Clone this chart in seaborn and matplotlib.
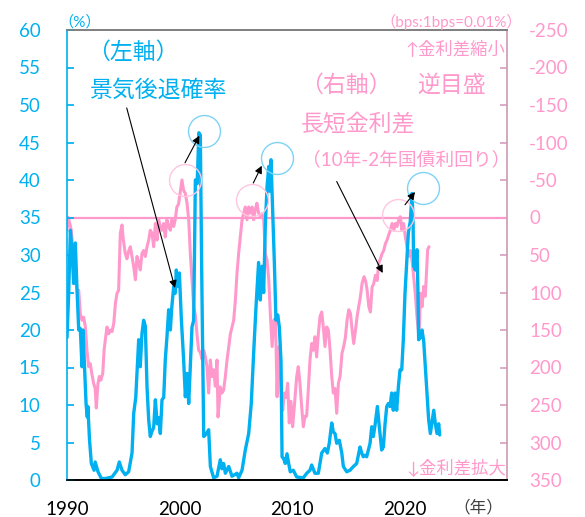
import numpy as np
import matplotlib
matplotlib.use("Agg")
import matplotlib.pyplot as plt
import seaborn as sns

# recession probability (left axis, %)
prob_year = [1990.00, 1990.15, 1990.30, 1990.44, 1990.59, 1990.74, 1990.89, 1991.04, 1991.18, 1991.33,
             1991.42, 1991.57, 1991.69, 1991.80, 1991.85, 1992.00, 1992.16, 1992.40, 1992.50, 1992.75,
             1993.05, 1993.40, 1994.00, 1994.44, 1994.64, 1994.88, 1995.17, 1995.47, 1995.77, 1995.92,
             1996.10, 1996.36, 1996.50, 1996.65, 1996.80, 1996.95, 1997.10, 1997.25, 1997.39, 1997.54,
             1997.69, 1997.84, 1998.00, 1998.13, 1998.28, 1998.43, 1998.58, 1998.72, 1998.87, 1999.02,
             1999.17, 1999.30, 1999.47, 1999.60, 1999.70, 1999.82, 1999.97, 2000.15, 2000.35, 2000.50,
             2000.65, 2000.80, 2000.94, 2001.09, 2001.24, 2001.39, 2001.55, 2001.70, 2001.83, 2001.95,
             2002.05, 2002.13, 2002.27, 2002.42, 2002.57, 2002.72, 2003.01, 2003.31, 2003.60, 2003.75,
             2003.90, 2004.05, 2004.35, 2004.64, 2005.08, 2005.23, 2005.53, 2005.82, 2006.12, 2006.35,
             2006.56, 2006.77, 2007.00, 2007.15, 2007.30, 2007.45, 2007.60, 2007.75, 2007.90, 2007.99,
             2008.10, 2008.25, 2008.40, 2008.54, 2008.70, 2008.84, 2008.99, 2009.08, 2009.23, 2009.37,
             2009.52, 2009.67, 2009.81, 2010.08, 2010.38, 2010.97, 2011.27, 2011.56, 2011.71, 2012.00,
             2012.30, 2012.60, 2012.89, 2013.10, 2013.27, 2013.49, 2013.63, 2013.78, 2013.93, 2014.16,
             2014.38, 2014.52, 2014.82, 2015.11, 2015.41, 2015.70, 2016.00, 2016.15, 2016.29, 2016.44,
             2016.59, 2016.89, 2017.04, 2017.18, 2017.33, 2017.54, 2017.71, 2017.92, 2018.07, 2018.22,
             2018.37, 2018.51, 2018.66, 2018.81, 2018.95, 2019.10, 2019.25, 2019.40, 2019.55, 2019.70,
             2019.84, 2019.99, 2020.14, 2020.29, 2020.46, 2020.61, 2020.70, 2020.76, 2020.91, 2021.06,
             2021.14, 2021.20, 2021.35, 2021.50, 2021.65, 2021.79, 2021.94, 2022.09, 2022.24, 2022.39,
             2022.54, 2022.68, 2022.83, 2022.98, 2023.07]
prob_pct = [19.0, 25.0, 33.3, 30.7, 26.2, 31.6, 25.3, 20.0, 20.2, 15.1,
            20.0, 14.7, 10.2, 8.4, 9.8, 5.3, 2.2, 1.3, 2.4, 1.1,
            0.2, 0.2, 0.4, 1.3, 2.4, 1.3, 0.7, 1.1, 3.6, 8.9,
            11.0, 18.7, 15.1, 19.5, 21.3, 20.5, 12.4, 8.0, 5.8, 6.5,
            7.0, 10.7, 7.5, 8.3, 6.2, 10.7, 11.0, 16.0, 19.1, 22.7,
            20.0, 23.1, 25.8, 24.9, 28.0, 25.8, 27.6, 21.3, 16.0, 11.1,
            14.2, 10.2, 15.1, 20.4, 21.3, 40.0, 39.5, 46.3, 46.0, 28.0,
            15.0, 5.8, 6.0, 6.3, 6.7, 1.8, 0.3, 0.5, 2.7, 1.5,
            2.2, 0.9, 1.8, 0.5, 0.9, 0.3, 1.3, 4.0, 6.2, 10.2,
            16.9, 23.1, 29.0, 24.0, 28.5, 25.0, 34.2, 39.1, 41.8, 38.5,
            42.7, 35.6, 28.9, 21.3, 22.0, 20.4, 15.8, 3.1, 2.8, 2.2,
            3.5, 2.2, 1.1, 1.3, 0.4, 0.3, 0.9, 1.3, 2.0, 0.9,
            0.9, 3.6, 4.2, 3.6, 4.9, 7.6, 6.4, 6.2, 4.9, 5.3,
            3.6, 1.8, 1.1, 1.3, 1.8, 2.2, 4.4, 3.6, 3.1, 3.3,
            3.1, 4.9, 7.1, 5.8, 7.3, 9.8, 7.1, 4.0, 4.4, 7.5,
            9.8, 10.2, 9.8, 11.6, 9.3, 11.6, 9.3, 12.4, 14.7, 14.7,
            18.7, 24.9, 28.9, 33.0, 34.5, 38.2, 35.0, 28.5, 28.0, 30.7,
            25.0, 18.7, 19.0, 20.0, 18.5, 15.1, 11.6, 8.0, 6.2, 7.8,
            9.3, 7.5, 6.2, 7.5, 6.0]

# 10y-2y spread (right axis, bps, inverted)
spread_year = [1990.00, 1990.10, 1990.25, 1990.38, 1990.60, 1990.74, 1990.89, 1991.04, 1991.18, 1991.33,
               1991.48, 1991.63, 1991.77, 1991.92, 1992.07, 1992.20, 1992.36, 1992.50, 1992.60, 1992.75,
               1992.87, 1993.00, 1993.17, 1993.29, 1993.40, 1993.55, 1993.70, 1993.85, 1994.00, 1994.15,
               1994.30, 1994.44, 1994.58, 1994.73, 1994.88, 1995.00, 1995.17, 1995.32, 1995.47, 1995.62,
               1995.77, 1995.92, 1996.07, 1996.21, 1996.36, 1996.50, 1996.65, 1996.80, 1996.95, 1997.10,
               1997.25, 1997.39, 1997.54, 1997.69, 1997.84, 1998.00, 1998.13, 1998.28, 1998.43, 1998.58,
               1998.72, 1998.87, 1999.02, 1999.17, 1999.30, 1999.47, 1999.60, 1999.75, 1999.90, 2000.03,
               2000.20, 2000.35, 2000.50, 2000.65, 2000.80, 2000.94, 2001.09, 2001.24, 2001.39, 2001.53,
               2001.68, 2001.83, 2001.98, 2002.13, 2002.27, 2002.42, 2002.57, 2002.72, 2002.86, 2003.01,
               2003.16, 2003.31, 2003.40, 2003.50, 2003.60, 2003.75, 2003.90, 2004.05, 2004.20, 2004.35,
               2004.50, 2004.64, 2004.79, 2004.94, 2005.08, 2005.23, 2005.38, 2005.53, 2005.68, 2005.82,
               2005.97, 2006.12, 2006.27, 2006.42, 2006.56, 2006.70, 2006.85, 2007.00, 2007.15, 2007.30,
               2007.45, 2007.60, 2007.75, 2007.90, 2008.04, 2008.20, 2008.35, 2008.50, 2008.64, 2008.73,
               2008.84, 2008.99, 2009.14, 2009.28, 2009.43, 2009.58, 2009.72, 2009.87, 2010.02, 2010.17,
               2010.38, 2010.52, 2010.67, 2010.82, 2010.97, 2011.12, 2011.26, 2011.41, 2011.56, 2011.71,
               2011.86, 2012.00, 2012.15, 2012.30, 2012.45, 2012.60, 2012.74, 2012.89, 2013.04, 2013.19,
               2013.34, 2013.49, 2013.63, 2013.78, 2013.93, 2014.08, 2014.23, 2014.40, 2014.55, 2014.70,
               2014.85, 2015.00, 2015.15, 2015.30, 2015.44, 2015.60, 2015.74, 2015.88, 2016.03, 2016.18,
               2016.36, 2016.50, 2016.63, 2016.78, 2016.92, 2017.07, 2017.22, 2017.37, 2017.52, 2017.66,
               2017.81, 2017.96, 2018.10, 2018.25, 2018.40, 2018.55, 2018.69, 2018.84, 2018.99, 2019.13,
               2019.28, 2019.43, 2019.57, 2019.72, 2019.87, 2020.02, 2020.17, 2020.31, 2020.46, 2020.61,
               2020.76, 2020.90, 2021.05, 2021.20, 2021.28, 2021.35, 2021.50, 2021.65, 2021.79, 2021.88,
               2022.00, 2022.12]
spread_bps = [17, 0, 8, 17, 57, 79, 97, 97, 128, 137,
              133, 146, 177, 199, 195, 208, 221, 228, 254, 221,
              212, 217, 208, 177, 163, 146, 155, 150, 152, 141,
              114, 101, 97, 21, 10, 30, 48, 55, 45, 39,
              52, 66, 83, 52, 60, 70, 48, 44, 52, 39,
              30, 17, 21, 39, 8, 30, 3, 12, 17, 8,
              26, 3, 12, 17, 3, 12, 3, -14, -18, -32,
              -50, -36, -32, -19, 3, 48, 83, 119, 130, 155,
              177, 180, 189, 177, 185, 199, 234, 190, 212, 203,
              225, 190, 266, 248, 226, 234, 230, 212, 190, 172,
              155, 146, 137, 110, 75, 48, 26, 3, -6, -14,
              3, -14, -6, -14, 3, -10, -19, -6, -1, -5,
              3, 48, 57, 83, 128, 172, 137, 134, 239, 180,
              172, 230, 257, 234, 240, 221, 274, 245, 279, 252,
              212, 199, 221, 252, 279, 265, 265, 230, 190, 168,
              177, 159, 186, 155, 132, 126, 146, 172, 146, 150,
              177, 212, 234, 228, 261, 221, 212, 181, 172, 160,
              137, 123, 128, 150, 168, 150, 132, 119, 106, 88,
              79, 85, 97, 119, 126, 93, 88, 77, 84, 61,
              55, 48, 44, 35, 30, 23, 17, 8, 17, 8,
              12, 3, -1, 17, 8, 26, 39, 52, 44, 57,
              79, 101, 132, 155, 142, 101, 119, 92, 105, 79,
              43, 39]

year_ticks = [1990, 2000, 2010, 2020]
left_ticks = list(range(0, 61, 5))
right_ticks = list(range(-250, 351, 50))

BLUE = "#00B0F0"
PINK = "#FF99CC"

sns.set_theme(style="white")
plt.rcParams['font.family'] = ['Lato', 'Noto Sans CJK JP', 'DejaVu Sans']
plt.rcParams['axes.unicode_minus'] = False

fig = plt.figure(figsize=(5.85, 5.17), dpi=100)
ax = fig.add_axes([67 / 585, 37 / 517, 440 / 585, 450 / 517])
ax2 = ax.twinx()

# pink spread on the inverted right axis
ax2.axhline(0, color=PINK, lw=1.6, zorder=1)
sns.lineplot(x=spread_year, y=spread_bps, ax=ax2, color=PINK, linewidth=2.2)
ax2.set_ylim(350, -250)
ax2.set_yticks(right_ticks)
ax2.set_yticklabels([str(t) for t in right_ticks])
ax2.tick_params(axis='y', direction='in', length=5, colors="#D8A2C0",
                labelcolor=PINK, labelsize=13.5, pad=16)
ax2.set_ylabel("")

# blue probability on top
sns.lineplot(x=prob_year, y=prob_pct, ax=ax, color=BLUE, linewidth=2.4)
ax.set_zorder(ax2.get_zorder() + 1)
ax.patch.set_visible(False)
ax.set_xlim(1990, 2029.04)
ax.set_ylim(0, 60)
ax.set_yticks(left_ticks)
ax.set_xticks(year_ticks)
ax.tick_params(axis='y', direction='in', length=5, colors=BLUE, labelsize=13.5, pad=19)
ax.tick_params(axis='x', direction='in', length=7, colors='black', labelsize=13.5, pad=15)
ax.set_xlabel("")
ax.set_ylabel("")

for a in (ax, ax2):
    a.spines['top'].set_color('#7F7F7F')
    a.spines['bottom'].set_color('black')
    a.spines['left'].set_color(BLUE)
    a.spines['right'].set_color('#CC99B3')
    for s in a.spines.values():
        s.set_linewidth(1.2)
ax.spines['right'].set_visible(False)
ax2.spines['left'].set_visible(False)

# circles on the peaks
blue_circles = [(2002.16, 46.6), (2008.61, 42.9), (2021.61, 38.9)]
pink_circles = [(2000.47, 40.0), (2006.39, 37.3), (2019.40, 35.3)]
for cx, cy in blue_circles:
    ax.plot([cx], [cy], marker='o', ms=23, mfc='none', mec='#7ED3F4', mew=1.0, ls='none')
for cx, cy in pink_circles:
    ax.plot([cx], [cy], marker='o', ms=23, mfc='none', mec='#FFC6E0', mew=1.0, ls='none')

arrows = [((2000.47, 42.3), (2001.74, 45.9)),
          ((2006.53, 39.6), (2007.28, 41.9)),
          ((2019.99, 36.7), (2020.88, 38.4)),
          ((1995.30, 49.6), (1999.58, 25.6)),
          ((2013.93, 39.8), (2018.01, 27.6))]
for start, end in arrows:
    ax.annotate('', xy=end, xytext=start,
                arrowprops=dict(arrowstyle='-|>', color='black', lw=0.8,
                                mutation_scale=11, shrinkA=0, shrinkB=0))

# text labels
jp = dict(ha='center', va='center')
ax.text(1995.86, 57.1, "（左軸）", color=BLUE, fontsize=16.5, **jp)
ax.text(1998.07, 52.0, "景気後退確率", color=BLUE, fontsize=16.5, **jp)
ax.text(2014.76, 52.7, "（右軸）", color=PINK, fontsize=16.5, **jp)
ax.text(2024.16, 52.7, "逆目盛", color=PINK, fontsize=16.5, **jp)
ax.text(2015.82, 47.6, "長短金利差", color=PINK, fontsize=16.5, **jp)
ax.text(2020.08, 42.7, "（10年-2年国債利回り）", color=PINK, fontsize=13.5, **jp)
ax.text(2028.9, 57.5, "↑金利差縮小", color=PINK, fontsize=12.5, ha='right', va='center')
ax.text(2029.0, 1.7, "↓金利差拡大", color=PINK, fontsize=12.5, ha='right', va='center')
ax.text(2024.07, 61.07, "（bps:1bps=0.01%）", color=PINK, fontsize=11, clip_on=False, **jp)
ax.text(1991.15, 61.07, "（%）", color=BLUE, fontsize=11, clip_on=False, **jp)
ax.text(2026.47, -3.6, "（年）", color='#404040', fontsize=12, clip_on=False, **jp)

fig.savefig("out.png", dpi=100)
